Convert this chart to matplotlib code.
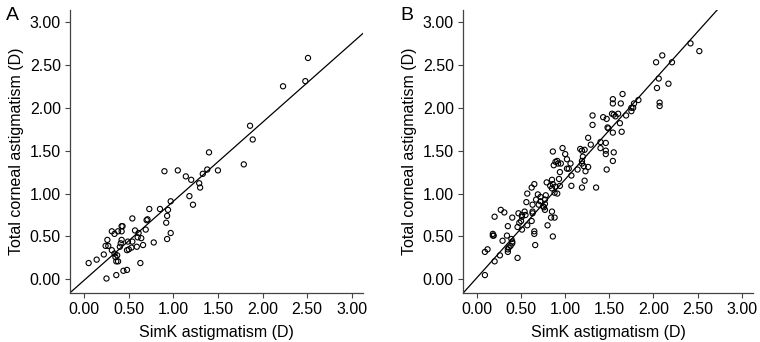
import numpy as np
import matplotlib.pyplot as plt

plt.rcParams['font.family'] = ['Liberation Sans', 'DejaVu Sans']

# Panel A: SimK vs total corneal astigmatism (D)
a_simk = [2.51, 2.48, 2.23, 1.86, 1.89, 1.79, 1.40, 1.50, 1.38, 1.33,
          1.29, 1.30, 1.20, 1.14, 1.05, 0.90, 1.18, 1.22, 0.97, 0.94,
          0.85, 0.93, 0.92, 0.97, 0.93, 0.73, 0.71, 0.70, 0.69, 0.78,
          0.66, 0.63, 0.54, 0.57, 0.61, 0.60, 0.64, 0.59, 0.54, 0.53,
          0.50, 0.48, 0.43, 0.42, 0.42, 0.38, 0.31, 0.34, 0.42, 0.40,
          0.41, 0.49, 0.26, 0.24, 0.27, 0.31, 0.22, 0.34, 0.37, 0.35,
          0.36, 0.38, 0.14, 0.05, 0.25, 0.36, 0.44, 0.48]
a_total = [2.58, 2.31, 2.25, 1.79, 1.63, 1.34, 1.48, 1.27, 1.28, 1.23,
           1.12, 1.07, 1.16, 1.20, 1.27, 1.26, 0.97, 0.87, 0.91, 0.81,
           0.82, 0.74, 0.66, 0.54, 0.47, 0.82, 0.70, 0.69, 0.58, 0.43,
           0.40, 0.19, 0.71, 0.57, 0.54, 0.49, 0.48, 0.38, 0.44, 0.37,
           0.35, 0.34, 0.62, 0.62, 0.56, 0.56, 0.56, 0.53, 0.46, 0.38,
           0.42, 0.44, 0.46, 0.39, 0.39, 0.34, 0.29, 0.30, 0.28, 0.26,
           0.21, 0.21, 0.23, 0.19, 0.01, 0.05, 0.10, 0.11]
a_fit = (0.92, -0.01)  # slope, intercept

# Panel B
b_simk = [2.42, 2.52, 2.10, 2.03, 2.21, 2.06, 2.04, 2.17, 2.07, 2.07,
          1.83, 1.78, 1.77, 1.75, 1.75, 1.69, 1.65, 1.54, 1.54, 1.63,
          1.53, 1.55, 1.57, 1.60, 1.62, 1.64, 1.54, 1.55, 1.54, 1.48,
          1.49, 1.43, 1.47, 1.31, 1.31, 1.40, 1.40, 1.46, 1.46, 1.46,
          1.47, 1.35, 1.26, 1.29, 1.17, 1.19, 1.22, 1.20, 1.19, 1.19,
          1.21, 1.23, 1.26, 1.22, 1.19, 1.14, 1.07, 1.07, 1.00, 1.02,
          0.97, 1.02, 1.04, 1.06, 0.91, 0.92, 0.95, 0.89, 0.86, 0.87,
          0.94, 0.93, 0.94, 0.89, 0.91, 0.85, 0.86, 0.83, 0.85, 0.79,
          0.88, 0.78, 0.77, 0.77, 0.76, 0.77, 0.85, 0.84, 0.88, 0.86,
          0.80, 0.65, 0.62, 0.57, 0.69, 0.72, 0.72, 0.67, 0.70, 0.75,
          0.63, 0.63, 0.63, 0.62, 0.56, 0.54, 0.51, 0.55, 0.51, 0.47,
          0.48, 0.50, 0.46, 0.51, 0.57, 0.65, 0.65, 0.66, 0.46, 0.40,
          0.35, 0.34, 0.27, 0.31, 0.20, 0.18, 0.19, 0.18, 0.29, 0.39,
          0.40, 0.40, 0.38, 0.36, 0.35, 0.35, 0.26, 0.20, 0.12, 0.09,
          0.09]
b_total = [2.75, 2.66, 2.61, 2.53, 2.53, 2.34, 2.23, 2.28, 2.06, 2.02,
           2.09, 2.05, 2.00, 2.00, 1.96, 1.91, 2.16, 2.10, 2.05, 2.05,
           1.93, 1.92, 1.90, 1.93, 1.82, 1.72, 1.71, 1.48, 1.38, 1.77,
           1.76, 1.89, 1.87, 1.91, 1.80, 1.60, 1.53, 1.59, 1.50, 1.46,
           1.28, 1.07, 1.65, 1.57, 1.52, 1.50, 1.51, 1.43, 1.38, 1.35,
           1.32, 1.26, 1.31, 1.15, 1.07, 1.28, 1.21, 1.09, 1.46, 1.40,
           1.53, 1.29, 1.29, 1.35, 1.38, 1.35, 1.35, 1.37, 1.49, 1.33,
           1.25, 1.17, 1.09, 1.08, 1.00, 1.16, 1.11, 1.09, 1.06, 1.13,
           1.01, 0.98, 0.93, 0.88, 0.84, 0.81, 0.79, 0.72, 0.72, 0.50,
           0.63, 1.11, 1.07, 1.00, 0.99, 0.96, 0.91, 0.93, 0.87, 0.85,
           0.87, 0.79, 0.77, 0.68, 0.90, 0.79, 0.75, 0.75, 0.73, 0.77,
           0.66, 0.68, 0.61, 0.58, 0.63, 0.56, 0.53, 0.40, 0.25, 0.72,
           0.62, 0.51, 0.81, 0.78, 0.73, 0.53, 0.51, 0.51, 0.45, 0.47,
           0.44, 0.42, 0.39, 0.37, 0.35, 0.32, 0.28, 0.21, 0.35, 0.32,
           0.05]
b_fit = (1.146, 0.02)

ticks = [0.0, 0.5, 1.0, 1.5, 2.0, 2.5, 3.0]
lims_x = (-0.16, 3.13)
lims_y = (-0.16, 3.14)

fig = plt.figure(figsize=(7.6, 3.42), dpi=100)
ax_a = fig.add_axes([0.092, 0.143, 0.386, 0.828])
ax_b = fig.add_axes([0.609, 0.143, 0.382, 0.828])

for ax, xs, ys, fit, tag, tx in [(ax_a, a_simk, a_total, a_fit, "A", 0.008),
                                   (ax_b, b_simk, b_total, b_fit, "B", 0.527)]:
    ax.scatter(xs, ys, s=14, facecolors="none", edgecolors="black",
               linewidths=0.8, zorder=3)
    # fit line across the whole plotting range
    xl = np.array(lims_x)
    ax.plot(xl, fit[0] * xl + fit[1], color="black", lw=0.9, zorder=2)
    ax.set_xlim(*lims_x)
    ax.set_ylim(*lims_y)
    ax.set_xticks(ticks)
    ax.set_yticks(ticks)
    ax.set_xticklabels([f"{t:.2f}" for t in ticks])
    ax.set_yticklabels([f"{t:.2f}" for t in ticks])
    for s in ["top", "right"]:
        ax.spines[s].set_visible(False)
    for s in ["left", "bottom"]:
        ax.spines[s].set_color("#444444")
        ax.spines[s].set_linewidth(0.9)
    ax.tick_params(direction="out", length=3.5, width=0.8, color="#444444",
                   labelsize=11.5, pad=3)
    ax.set_xlabel("SimK astigmatism (D)", fontsize=11.5, labelpad=6)
    ax.set_ylabel("Total corneal astigmatism (D)", fontsize=11.5, labelpad=4)
    fig.text(tx, 0.955, tag, fontsize=14, ha="left", va="center")

fig.savefig("out.png", dpi=100)
